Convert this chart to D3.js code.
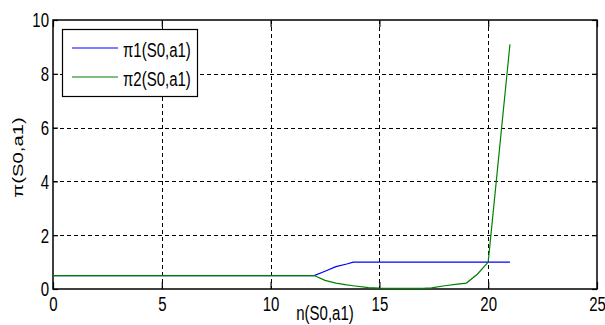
<!DOCTYPE html>
<html>
<head>
<meta charset="utf-8">
<script src="https://cdn.jsdelivr.net/npm/d3@7"></script>
<style>
  html, body { margin: 0; padding: 0; background: #fff; }
  svg { display: block; }
  text { font-family: "Liberation Sans", Arial, sans-serif; fill: #000; }
</style>
</head>
<body>
<svg id="chart" width="605" height="325"></svg>
<script>
// Sample positions along n(S0,a1) and the two policy curves
const nValues = [0, 12, 12.5, 13, 13.5, 13.8, 14.5, 15, 16, 17, 17.4, 18, 18.5, 19, 19.5, 20, 21];
const pi1 =     [0.5, 0.5, 0.66, 0.83, 0.93, 1.0, 1.0, 1.0, 1.0, 1.0, 1.0, 1.0, 1.0, 1.0, 1.0, 1.0, 1.0];
const pi2 =     [0.5, 0.5, 0.32, 0.22, 0.15, 0.12, 0.05, 0.03, 0.02, 0.02, 0.04, 0.12, 0.17, 0.22, 0.55, 1.0, 9.1];
const seriesNames = ["\u03c01(S0,a1)", "\u03c02(S0,a1)"];
const seriesColors = ["#0000ff", "#008000"];
const xTicks = [0, 5, 10, 15, 20, 25];
const yTicks = [0, 2, 4, 6, 8, 10];
const xLabel = "n(S0,a1)";
const yLabel = "\u03c0(S0,a1)";

const svg = d3.select("#chart");
const plotLeft = 53, plotRight = 597, plotTop = 20, plotBottom = 289;
const stretch = 1.35; // tall glyph proportions

const x = d3.scaleLinear().domain([0, 25]).range([plotLeft, plotRight]);
const y = d3.scaleLinear().domain([0, 10]).range([plotBottom, plotTop]);

// Dashed grid
const grid = svg.append("g").attr("stroke", "#000").attr("stroke-width", 1)
  .attr("stroke-dasharray", "4,3").attr("shape-rendering", "crispEdges");
grid.selectAll(".gx").data(xTicks.slice(1, -1)).join("line")
  .attr("x1", d => Math.round(x(d)) + 0.5).attr("x2", d => Math.round(x(d)) + 0.5)
  .attr("y1", plotTop).attr("y2", plotBottom);
grid.selectAll(".gy").data(yTicks.slice(1, -1)).join("line")
  .attr("y1", d => Math.round(y(d)) + 0.5).attr("y2", d => Math.round(y(d)) + 0.5)
  .attr("x1", plotLeft).attr("x2", plotRight);

// Axes with inward ticks
function styleAxis(g) {
  g.select(".domain").remove();
  g.selectAll("line").attr("stroke", "#000").attr("stroke-width", 1.2);
  g.selectAll("text").attr("font-size", 15).attr("dy", null);
}
const xAxis = svg.append("g").attr("transform", `translate(0,${plotBottom})`)
  .call(d3.axisBottom(x).tickValues(xTicks).tickSize(-7).tickFormat(d3.format("d")))
  .call(styleAxis);
xAxis.selectAll("text").attr("y", 0).attr("dominant-baseline", "central")
  .attr("transform", `translate(0,15) scale(1,${stretch})`);

svg.append("g").attr("transform", `translate(0,${plotTop})`)
  .call(d3.axisTop(x).tickValues(xTicks).tickSize(-7).tickFormat(""))
  .call(styleAxis);

const yAxis = svg.append("g").attr("transform", `translate(${plotLeft},0)`)
  .call(d3.axisLeft(y).tickValues(yTicks).tickSize(-5).tickFormat(d3.format("d")))
  .call(styleAxis);
yAxis.selectAll("text").attr("x", 0).attr("dominant-baseline", "central")
  .attr("text-anchor", "end")
  .attr("transform", `translate(-4,0) scale(1,${stretch})`);

svg.append("g").attr("transform", `translate(${plotRight},0)`)
  .call(d3.axisRight(y).tickValues(yTicks).tickSize(-5).tickFormat(""))
  .call(styleAxis);

// Plot frame
svg.append("rect").attr("x", plotLeft).attr("y", plotTop)
  .attr("width", plotRight - plotLeft).attr("height", plotBottom - plotTop)
  .attr("fill", "none").attr("stroke", "#000").attr("stroke-width", 1.5);

// Curves
const line = d3.line().x((d, i) => x(nValues[i])).y(d => y(d));
[pi1, pi2].forEach((s, k) => {
  svg.append("path").datum(s).attr("d", line)
    .attr("fill", "none").attr("stroke", seriesColors[k]).attr("stroke-width", 1.2);
});

// Axis titles
svg.append("text").attr("font-size", 15).attr("text-anchor", "middle")
  .attr("dominant-baseline", "central")
  .attr("transform", `translate(${(plotLeft + plotRight) / 2},313) scale(1,${stretch})`)
  .text(xLabel);
svg.append("text").attr("font-size", 15).attr("text-anchor", "middle")
  .attr("dominant-baseline", "central")
  .attr("transform", `translate(18,${(plotTop + plotBottom) / 2 + 3}) rotate(-90) scale(${stretch},1)`)
  .text(yLabel);

// Legend
const legend = svg.append("g");
legend.append("rect").attr("x", 62.5).attr("y", 29.5).attr("width", 135).attr("height", 67)
  .attr("fill", "#fff").attr("stroke", "#000").attr("stroke-width", 1.2);
const rows = [48, 77];
seriesNames.forEach((name, k) => {
  legend.append("line").attr("x1", 72).attr("x2", 118)
    .attr("y1", rows[k]).attr("y2", rows[k])
    .attr("stroke", seriesColors[k]).attr("stroke-width", 1.2);
  legend.append("text").attr("font-size", 15).attr("dominant-baseline", "central")
    .attr("transform", `translate(123,${rows[k] + 2}) scale(1,${stretch})`)
    .text(name);
});
</script>
</body>
</html>
